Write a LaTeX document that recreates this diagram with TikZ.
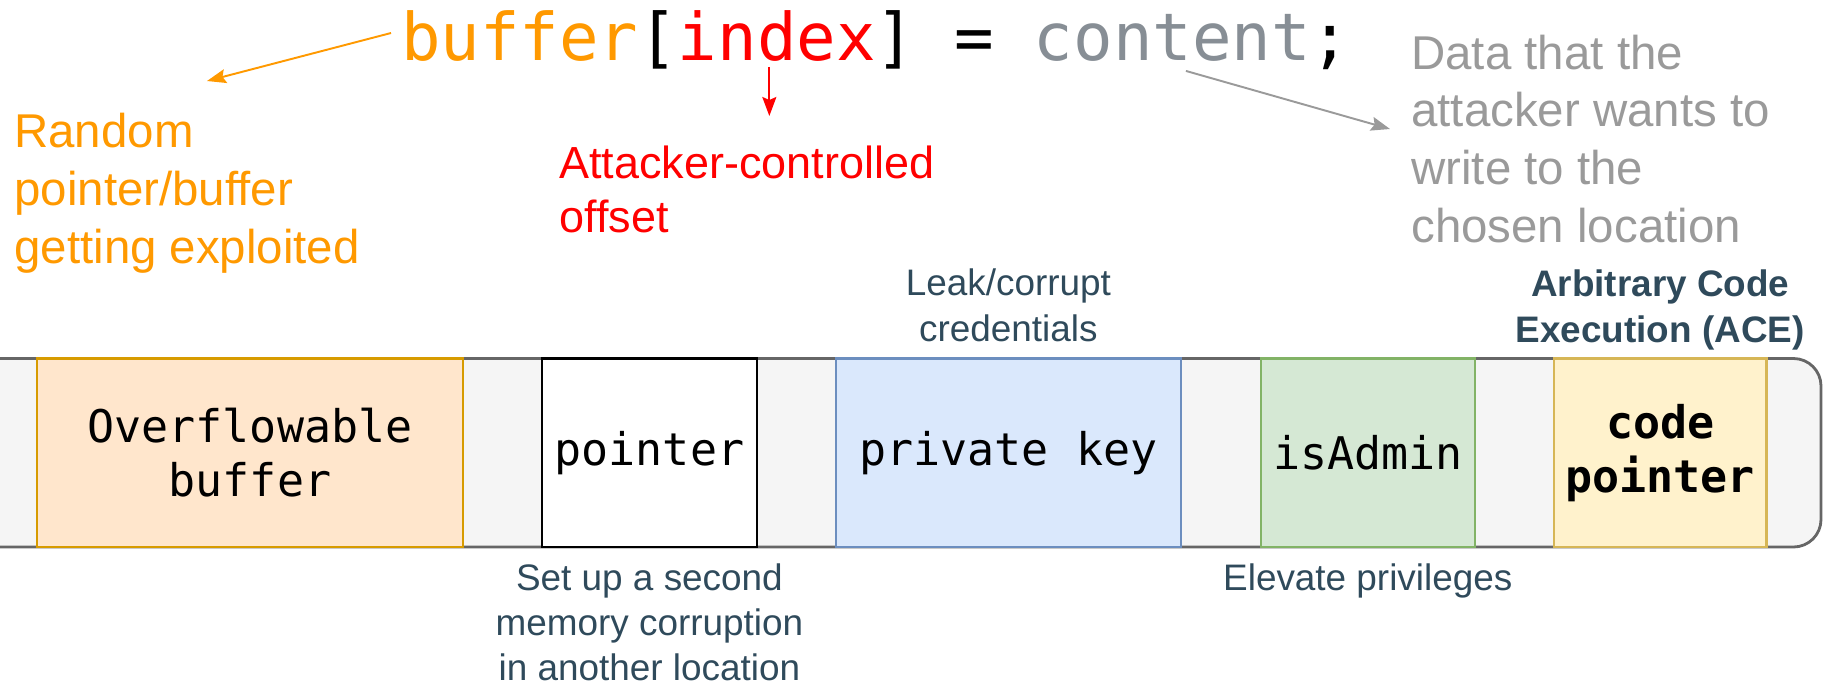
\documentclass[tikz,border=0pt]{standalone}
\usepackage{fontspec}
\setmainfont{Liberation Sans}
\setmonofont{DejaVu Sans Mono}
\usetikzlibrary{positioning, arrows.meta}

\definecolor{bufcol}{HTML}{FF9900}
\definecolor{idxcol}{HTML}{FF0000}
\definecolor{cntcol}{HTML}{878E95}
\definecolor{datacol}{HTML}{9A9A9A}
\definecolor{lblcol}{HTML}{2F4A5B}
\definecolor{stripfill}{HTML}{F5F5F5}
\definecolor{stripdraw}{HTML}{666666}

\begin{document}
\begin{tikzpicture}[x=0.02cm, y=-0.02cm,
	cell/.style={draw, line width=1.4pt, minimum height=3.77cm, inner sep=0pt, outer sep=0pt, align=center, font=\ttfamily\fontsize{25.6}{30.7}\selectfont},
	note/.style={inner sep=0pt, align=left, anchor=base west, font=\fontsize{27}{32.8}\selectfont},
	lbl/.style={inner sep=0pt, align=center, text=lblcol, font=\fontsize{21}{25.8}\selectfont},
	code/.style={inner sep=0pt, outer sep=0pt, font=\ttfamily\fontsize{37.4}{44}\selectfont},
	pin/.style={line width=1.1pt, -{Stealth[length=0.38cm, width=0.28cm, inset=0.06cm]}}]
	\useasboundingbox (0,0) rectangle (1825,684);
	\clip (0,0) rectangle (1825,684);
	% Memory strip:
	\draw[fill=stripfill, draw=stripdraw, line width=1.6pt, rounded corners=0.55cm] (-30,358.5) -- (1821,358.5) -- (1821,547) -- (-30,547) -- cycle;
	\node[cell, minimum width=8.52cm, draw={rgb,255:red,215;green,155;blue,0}, fill={rgb,255:red,255;green,230;blue,204}] (buf) at (250,452.75) {Overflowable\\buffer};
	\node[cell, minimum width=4.30cm, draw=black, fill=white, right=1.58cm of buf] (ptr) {pointer};
	\node[cell, minimum width=6.90cm, draw={rgb,255:red,108;green,142;blue,191}, fill={rgb,255:red,218;green,232;blue,252}, right=1.58cm of ptr] (key) {private key};
	\node[cell, minimum width=4.28cm, draw={rgb,255:red,130;green,179;blue,102}, fill={rgb,255:red,213;green,232;blue,212}, right=1.60cm of key] (adm) {isAdmin};
	\node[cell, minimum width=4.26cm, draw={rgb,255:red,214;green,182;blue,86}, fill={rgb,255:red,255;green,242;blue,204}, right=1.58cm of adm, font=\ttfamily\bfseries\fontsize{25.6}{30.7}\selectfont] (cp) {code\\pointer};
	% Labels round the strip:
	\node[lbl, above=0.33cm of key] (leak) {Leak/corrupt\\credentials};
	\node[lbl, above=0.17cm of cp, font=\bfseries\fontsize{21}{25.8}\selectfont] (ace) {Arbitrary Code\\Execution (ACE)};
	\node[lbl, below=0.32cm of ptr] (setup) {Set up a second\\memory corruption\\in another location};
	\node[lbl, below=0.32cm of adm] (elev) {Elevate privileges};
	% Code line:
	\node[code, text=bufcol, anchor=base west] (bufw) at (401,60) {buffer};
	\node[code, base right=0pt of bufw] (lbr) {[};
	\node[code, text=idxcol, base right=0pt of lbr] (idx) {index};
	\node[code, base right=0pt of idx] (eq) {]\ =\phantom{x}};
	\node[code, text=cntcol, base right=0pt of eq] (cnt) {content};
	\node[code, base right=0pt of cnt] (semi) {;};
	% Notes (anchored at the last line):
	\node[note, text=bufcol] (rnd) at (14,263) {Random\\pointer/buffer\\getting exploited};
	\node[note, text=idxcol, font=\fontsize{25.6}{30.2}\selectfont] (off) at (559,232) {Attacker-controlled\\offset};
	\node[note, text=datacol] (data) at (1411,242) {Data that the\\attacker wants to\\write to the\\chosen location};
	\coordinate (rndtip) at (207,81);
	\coordinate (offtip) at ([xshift=-0.15cm]idx.south |- 0,116);
	\coordinate (datatip) at (1390,129);
	\draw[pin, bufcol] ([xshift=-0.2cm, yshift=0.05cm]bufw.west) -- (rndtip);
	\draw[pin, idxcol] ([xshift=-0.15cm, yshift=-0.12cm]idx.south) -- (offtip);
	\draw[pin, datacol] ([xshift=-2.5cm, yshift=-0.2cm]cnt.south east) -- (datatip);
\end{tikzpicture}
\end{document}
